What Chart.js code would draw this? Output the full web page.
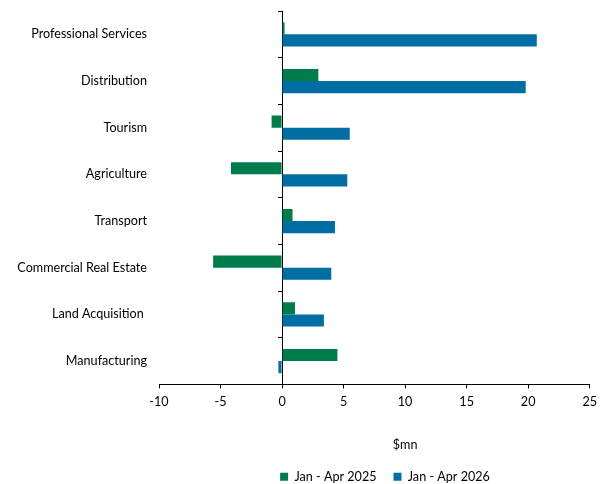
<!DOCTYPE html>
<html>
<head>
<meta charset="utf-8">
<script src="https://cdn.jsdelivr.net/npm/chart.js@4"></script>
<style>
  html, body { margin: 0; padding: 0; background: #fff; }
  #wrap { width: 603px; height: 484px; }
</style>
</head>
<body>
<div id="wrap"><canvas id="myChart"></canvas></div>
<script>
const sectors = [
    'Professional Services',
    'Distribution',
    'Tourism',
    'Agriculture',
    'Transport',
    'Commercial Real Estate',
    'Land Acquisition ',
    'Manufacturing',
];
const jan_apr_2025 = [0.2, 2.95, -0.85, -4.15, 0.85, -5.6, 1.05, 4.5];
const jan_apr_2026 = [20.7, 19.8, 5.5, 5.3, 4.3, 4.0, 3.4, -0.3];
const xTicks = [-10, -5, 0, 5, 10, 15, 20, 25];
const unitLabel = '$mn';

const FONT = 'Lato, "Open Sans", sans-serif';
Chart.defaults.font.family = FONT;
Chart.defaults.font.size = 12.6;
Chart.defaults.color = '#000';

// unit label sits under the 10 tick, and the legend is nudged into place
const extras = {
    id: 'extras',
    afterLayout(chart) {
        const lg = chart.legend;
        lg.left += 90;
        lg.right += 90;
        lg.top += 9;
        lg.bottom += 9;
    },
    afterDraw(chart) {
        const ctx = chart.ctx;
        const x = chart.scales.x;
        ctx.save();
        ctx.font = '12.6px ' + FONT;
        ctx.fillStyle = '#000';
        ctx.textAlign = 'center';
        ctx.textBaseline = 'middle';
        ctx.fillText(unitLabel, x.getPixelForValue(10), 445);
        ctx.restore();
    }
};

const data = {
    labels: sectors,
    datasets: [{
        label: 'Jan - Apr 2025',
        data: jan_apr_2025,
        backgroundColor: '#007C4B',
        barPercentage: 1,
        categoryPercentage: 0.52
    }, {
        label: 'Jan - Apr 2026',
        data: jan_apr_2026,
        backgroundColor: '#006EA2',
        barPercentage: 1,
        categoryPercentage: 0.52
    }]
};

const config = {
    type: 'bar',
    data: data,
    plugins: [extras],
    options: {
        indexAxis: 'y',
        responsive: true,
        maintainAspectRatio: false,
        animation: false,
        layout: {
            padding: { top: 11, right: 13, bottom: 0, left: 0 }
        },
        plugins: {
            legend: {
                position: 'bottom',
                labels: {
                    boxWidth: 8,
                    boxHeight: 8,
                    padding: 17,
                    color: '#000'
                }
            },
            tooltip: { enabled: false }
        },
        scales: {
            x: {
                min: -10,
                max: 25,
                afterBuildTicks: s => { s.ticks = xTicks.map(v => ({ value: v })); },
                afterFit: s => { s.height = 60; },
                ticks: { padding: 6 },
                grid: {
                    drawOnChartArea: false,
                    tickLength: 4,
                    color: '#000'
                },
                border: { color: '#000' }
            },
            y: {
                afterFit: s => {
                    s.width = 159;
                    s.paddingTop = 0;
                    s.paddingBottom = 0;
                },
                ticks: { padding: 12 },
                grid: { display: false, drawTicks: false },
                border: { display: false }
            },
            // zero line with short marks between categories
            y2: {
                type: 'category',
                axis: 'y',
                position: { x: 0 },
                offset: true,
                ticks: { display: false },
                grid: {
                    offset: true,
                    drawOnChartArea: false,
                    tickLength: 4,
                    color: '#000'
                },
                border: { color: '#000' }
            }
        }
    },
};

const ctx = document.getElementById('myChart');
new Chart(ctx, config);
</script>
</body>
</html>
